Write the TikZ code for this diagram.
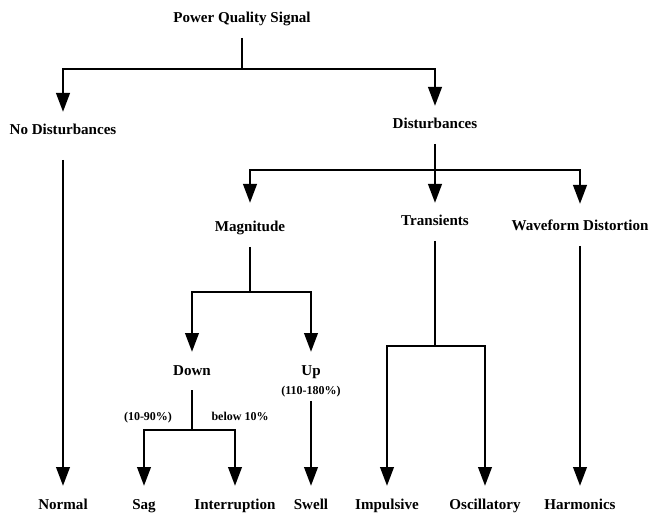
\documentclass[tikz,border=0pt]{standalone}
\usepackage{fontspec}
\setmainfont{Liberation Serif}
\usetikzlibrary{arrows.meta}

\tikzset{every picture/.style={line width=0.75pt}}
\tikzset{
  lbl/.style={font=\bfseries\fontsize{11.3}{13}\selectfont, inner sep=0pt, text height=8.25pt, text depth=2.25pt, outer ysep=9pt},
  lblsmall/.style={font=\bfseries\fontsize{9}{11}\selectfont, inner sep=0pt, text height=6.75pt, text depth=1.9pt, outer ysep=3pt},
  bar/.style={line width=2.2pt},
  arr/.style={line width=2.2pt, -{Triangle[width=10pt,length=14.25pt]}}
}

\begin{document}
\begin{tikzpicture}[x=0.75pt,y=0.75pt,yscale=-1,xscale=1]
\useasboundingbox (0,0) rectangle (653,513);

% Text Node
\node[lbl] (pqs) at (242,19) {Power Quality Signal};
% Text Node
\node[lbl] (nodist) at (63,131) {No Disturbances};
% Text Node
\node[lbl] (dist) at (435,125) {Disturbances};
% Text Node
\node[lbl] (mag) at (250,228) {Magnitude};
% Text Node
\node[lbl] (trans) at (435,222) {Transients};
% Text Node
\node[lbl] (wave) at (580,227) {Waveform Distortion};
% Text Node
\node[lbl] (down) at (192,371) {Down};
% Text Node
\node[lbl] (up) at (311,371) {Up};
% Text Node
\node[lblsmall] (upr) at (311,391) {(110-180\%)};
% Text Node
\node[lblsmall] (sagr) at (148,417) {(10-90\%)};
% Text Node
\node[lblsmall] (intr) at (240,417) {below 10\%};
% Text Node
\node[lbl] (normal) at (63,505) {Normal};
% Text Node
\node[lbl] (sag) at (144,505) {Sag};
% Text Node
\node[lbl] (interr) at (235,505) {Interruption};
% Text Node
\node[lbl] (swell) at (311,505) {Swell};
% Text Node
\node[lbl] (imp) at (387,505) {Impulsive};
% Text Node
\node[lbl] (osc) at (485,505) {Oscillatory};
% Text Node
\node[lbl] (harm) at (580,505) {Harmonics};

%Straight Lines
\coordinate (j0) at (242,69);
\draw[bar] (pqs) -- (j0);
\draw[arr] (j0) -| (nodist);
\draw[arr] (j0) -| (dist);
\draw[arr, shorten <=7.5pt] (nodist) -- (normal);
%Straight Lines
\coordinate (j1) at (435,170);
\draw[bar] (dist) -- (j1);
\draw[arr, shorten >=4.5pt] (j1) -| (mag);
\draw[arr] (j1) -- (trans);
\draw[arr, shorten >=3pt] (j1) -| (wave);
\draw[arr] (wave) -- (harm);
%Straight Lines
\coordinate (j2) at (250,292);
\draw[bar] (mag) -- (j2);
\draw[arr] (j2) -| (down);
\draw[arr] (j2) -| (up);
\draw[arr] (upr) -- (swell);
%Straight Lines
\coordinate (j3) at (192,430);
\draw[bar] (down) -- (j3);
\draw[arr] (j3) -| (sag);
\draw[arr] (j3) -| (interr);
%Straight Lines
\coordinate (j4) at (435,346);
\draw[bar] (trans) -- (j4);
\draw[arr] (j4) -| (imp);
\draw[arr] (j4) -| (osc);
\end{tikzpicture}
\end{document}
